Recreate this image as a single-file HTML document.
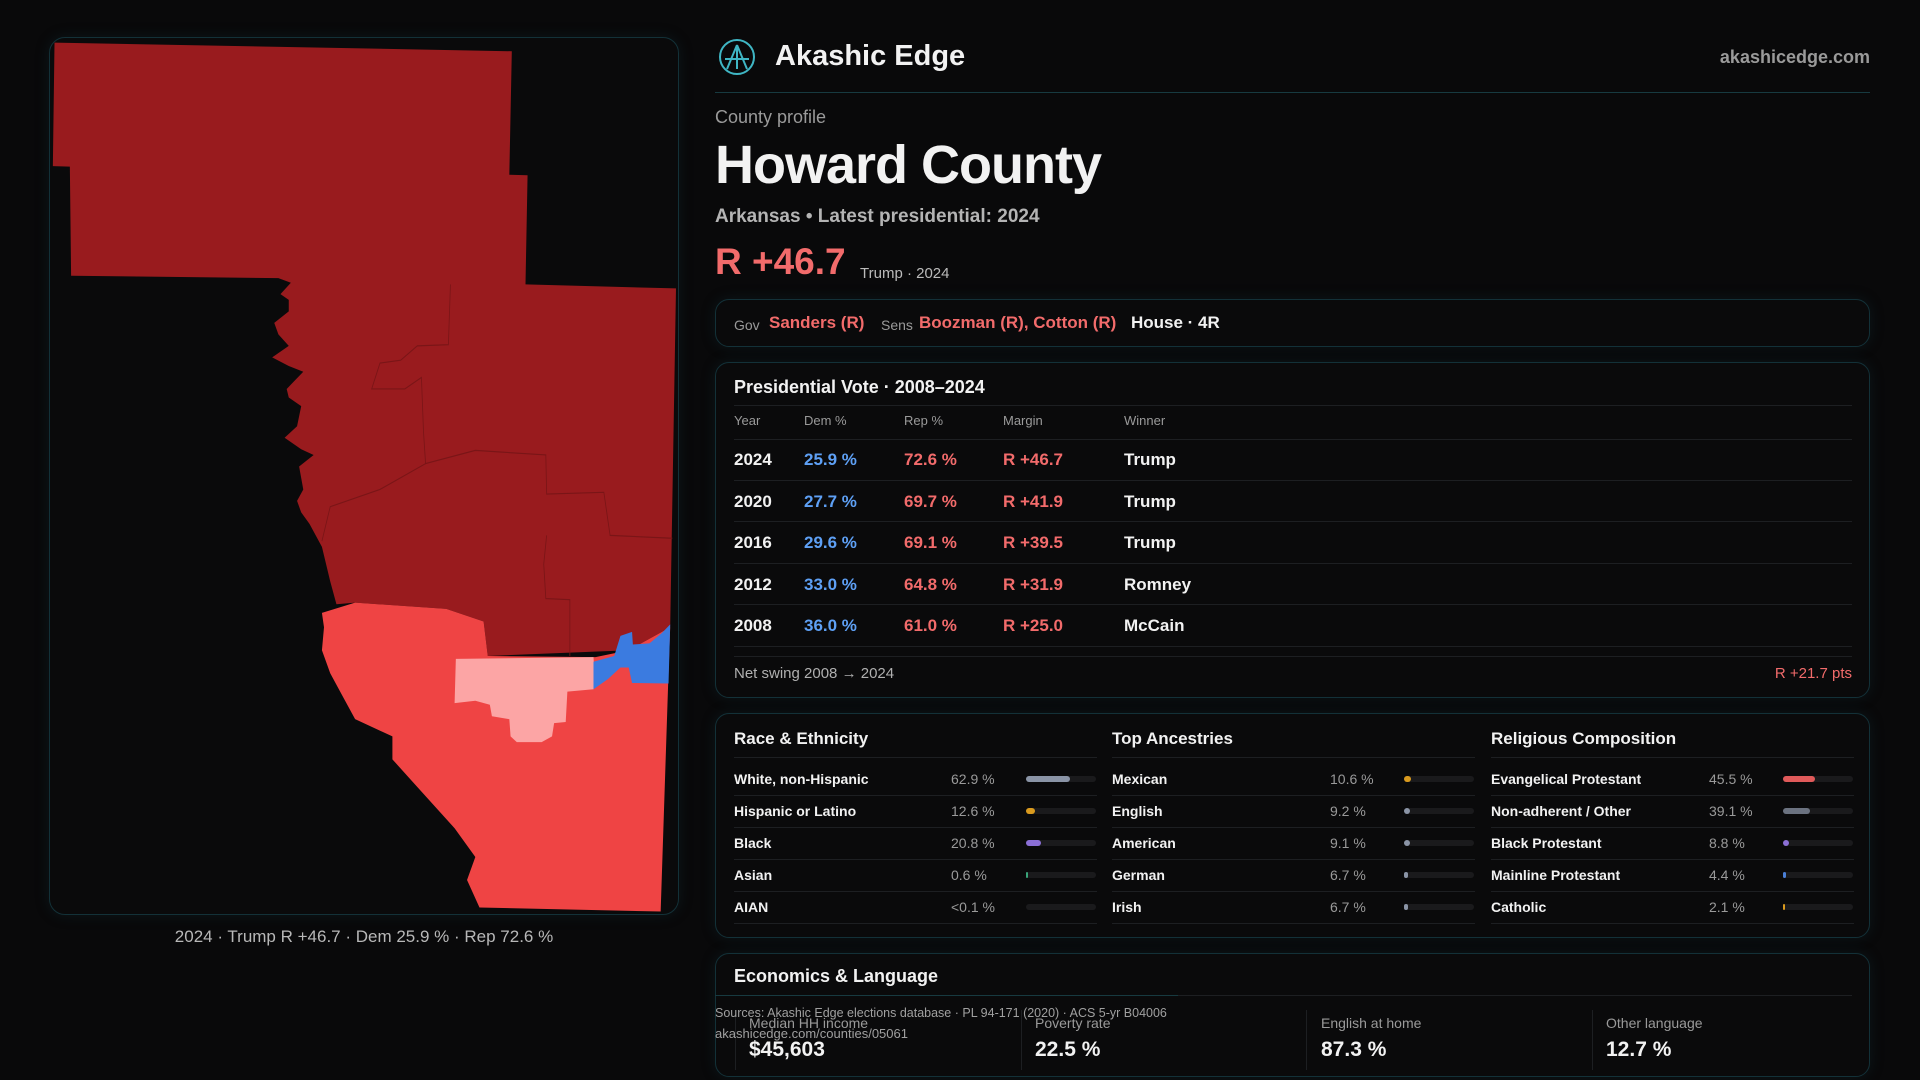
<!DOCTYPE html>
<html><head><meta charset="utf-8"><style>
*{margin:0;padding:0;box-sizing:border-box}
body{width:1920px;height:1080px;background:#09090a;position:relative;overflow:hidden;font-family:"Liberation Sans",sans-serif;color:#f2f2f2}
.a{position:absolute;white-space:nowrap;line-height:1}
.card{position:absolute;border:1px solid #133138;border-radius:14px;background:#0a0a0b;box-shadow:0 0 14px rgba(20,60,70,.25)}
.g{color:#9a9a9a}.d{color:#5ea0f5}.r{color:#f26b6b}
.hl{position:absolute;height:1px;background:#1d1f22}
.trk{position:absolute;height:6px;width:70px;border-radius:3px;background:#1a1a1c}
.fill{position:absolute;left:0;top:0;height:6px;border-radius:3px}
</style></head><body>
<div class="card" style="left:49px;top:37px;width:630px;height:878px;border-radius:16px"></div>
<svg class="a" style="left:0;top:0" width="1920" height="1080">
<g transform="translate(40,30) scale(0.4146,0.5743)">
<polygon fill="#991b1e" points="35,22 1138,37 1132,252 1176,253 1171,443 1534,450 1520,1040 1420,1080 1080,1090 1070,1030 980,1008 760,997 715,1000 700,960 690,930 680,900 665,880 650,860 630,840 620,820 635,800 625,760 660,740 630,730 590,710 620,690 630,655 600,640 595,625 635,595 600,585 560,570 600,550 575,530 565,510 600,490 600,470 580,460 605,440 575,432 75,428 72,238 31,237"/>
<g fill="none" stroke="#7a1517" stroke-width="2">
<polyline points="990,443 985,548 910,550 870,575 820,580 800,625 880,625 920,605 925,700 930,755 1050,732 1220,740 1222,808 1360,805 1375,880 1525,885"/>
<polyline points="930,755 820,800 700,830 680,890"/>
<polyline points="1222,880 1215,930 1220,990 1278,992 1278,1090"/>
</g>
<polygon fill="#ef4444" points="680,1015 760,997 980,1008 1070,1030 1080,1090 1340,1092 1420,1080 1520,1040 1515,1140 1497,1535 1060,1528 1030,1480 1050,1440 1000,1390 900,1310 850,1270 850,1230 760,1200 730,1160 700,1120 680,1080 685,1040"/>
<polygon fill="#fca5a5" points="1003,1095 1335,1092 1338,1130 1350,1135 1335,1148 1272,1152 1268,1205 1240,1207 1235,1230 1210,1240 1150,1240 1135,1230 1132,1200 1090,1195 1085,1175 1050,1168 1000,1172"/>
<polygon fill="#3b7be0" points="1335,1100 1385,1090 1400,1055 1428,1048 1430,1070 1470,1068 1500,1050 1520,1035 1516,1138 1428,1137 1420,1110 1400,1110 1370,1130 1335,1148"/>
</g>
<g transform="translate(737,57)" fill="none" stroke="#3fb6c4" stroke-width="2">
<circle r="17"/><path d="M0,-12 L-10,12 M0,-12 L10,12 M-12,2 L12,2 M0,-12 L0,12"/>
</g>
</svg>
<div class="a g" style="left:0;width:728px;text-align:center;top:928px;font-size:17px;color:#b8b8b8">2024 · Trump R +46.7 · Dem 25.9 % · Rep 72.6 %</div>

<div class="a" style="left:775px;top:42px;font-size:29px;font-weight:bold">Akashic Edge</div>
<div class="a g" style="right:50px;top:48px;font-size:18px;font-weight:bold">akashicedge.com</div>
<div style="position:absolute;left:715px;top:92px;width:1155px;height:1px;background:#173a40"></div>
<div class="a g" style="left:715px;top:108px;font-size:18px">County profile</div>
<div class="a" style="left:715px;top:138px;font-size:54px;font-weight:bold;letter-spacing:-1px">Howard County</div>
<div class="a" style="left:715px;top:207px;font-size:19px;font-weight:bold;color:#b4b4b4">Arkansas • Latest presidential: 2024</div>
<div class="a r" style="left:715px;top:243px;font-size:37px;font-weight:bold">R +46.7</div>
<div class="a" style="left:860px;top:266px;font-size:15px;color:#bbb">Trump · 2024</div>

<div class="card" style="left:715px;top:299px;width:1155px;height:48px"></div>
<div class="a g" style="left:734px;top:318px;font-size:14px">Gov</div>
<div class="a r" style="left:769px;top:314px;font-size:17px;font-weight:bold">Sanders (R)</div>
<div class="a g" style="left:881px;top:318px;font-size:14px">Sens</div>
<div class="a r" style="left:919px;top:314px;font-size:17px;font-weight:bold">Boozman (R), Cotton (R)</div>
<div class="a" style="left:1131px;top:314px;font-size:17px;font-weight:bold">House · 4R</div>

<div class="card" style="left:715px;top:362px;width:1155px;height:336px"></div>
<div class="a" style="left:734px;top:378px;font-size:18px;font-weight:bold">Presidential Vote · 2008–2024</div>
<div class="hl" style="left:734px;width:1118px;top:405px"></div>
<div class="a g" style="left:734px;top:414px;font-size:13px">Year</div>
<div class="a g" style="left:804px;top:414px;font-size:13px">Dem %</div>
<div class="a g" style="left:904px;top:414px;font-size:13px">Rep %</div>
<div class="a g" style="left:1003px;top:414px;font-size:13px">Margin</div>
<div class="a g" style="left:1124px;top:414px;font-size:13px">Winner</div>
<div class="hl" style="left:734px;width:1118px;top:439px"></div>
<div style="position:absolute;left:734px;top:439px;font-size:17px;font-weight:bold">
<div style="position:relative;height:41.5px;border-bottom:1px solid #1d1f22;width:1118px"><span class="a" style="left:0;top:12px">2024</span><span class="a d" style="left:70px;top:12px">25.9 %</span><span class="a r" style="left:170px;top:12px">72.6 %</span><span class="a r" style="left:269px;top:12px">R +46.7</span><span class="a" style="left:390px;top:12px">Trump</span></div>
<div style="position:relative;height:41.5px;border-bottom:1px solid #1d1f22;width:1118px"><span class="a" style="left:0;top:12px">2020</span><span class="a d" style="left:70px;top:12px">27.7 %</span><span class="a r" style="left:170px;top:12px">69.7 %</span><span class="a r" style="left:269px;top:12px">R +41.9</span><span class="a" style="left:390px;top:12px">Trump</span></div>
<div style="position:relative;height:41.5px;border-bottom:1px solid #1d1f22;width:1118px"><span class="a" style="left:0;top:12px">2016</span><span class="a d" style="left:70px;top:12px">29.6 %</span><span class="a r" style="left:170px;top:12px">69.1 %</span><span class="a r" style="left:269px;top:12px">R +39.5</span><span class="a" style="left:390px;top:12px">Trump</span></div>
<div style="position:relative;height:41.5px;border-bottom:1px solid #1d1f22;width:1118px"><span class="a" style="left:0;top:12px">2012</span><span class="a d" style="left:70px;top:12px">33.0 %</span><span class="a r" style="left:170px;top:12px">64.8 %</span><span class="a r" style="left:269px;top:12px">R +31.9</span><span class="a" style="left:390px;top:12px">Romney</span></div>
<div style="position:relative;height:41.5px;border-bottom:1px solid #1d1f22;width:1118px"><span class="a" style="left:0;top:12px">2008</span><span class="a d" style="left:70px;top:12px">36.0 %</span><span class="a r" style="left:170px;top:12px">61.0 %</span><span class="a r" style="left:269px;top:12px">R +25.0</span><span class="a" style="left:390px;top:12px">McCain</span></div>
</div>
<div class="hl" style="left:734px;width:1118px;top:656px"></div>
<div class="a g" style="left:734px;top:666px;font-size:15px;color:#b0b0b0">Net swing 2008 → 2024</div>
<div class="a r" style="right:68px;top:666px;font-size:15px">R +21.7 pts</div>

<div class="card" style="left:715px;top:713px;width:1155px;height:225px"></div>

<div class="card" style="left:715px;top:953px;width:1155px;height:124px"></div>
<div class="a" style="left:734px;top:967px;font-size:18px;font-weight:bold">Economics &amp; Language</div>
<div class="hl" style="left:734px;width:1118px;top:995px"></div>
<div style="position:absolute;left:715px;top:995px;width:463px;height:1px;background:#173a40"></div>
<div style="position:absolute;left:735px;top:1010px;width:1px;height:60px;background:#1d1f22"></div>
<div style="position:absolute;left:1021px;top:1010px;width:1px;height:60px;background:#1d1f22"></div>
<div style="position:absolute;left:1306px;top:1010px;width:1px;height:60px;background:#1d1f22"></div>
<div style="position:absolute;left:1592px;top:1010px;width:1px;height:60px;background:#1d1f22"></div>
<div class="a g" style="left:749px;top:1016px;font-size:14px">Median HH income</div>
<div class="a g" style="left:1035px;top:1016px;font-size:14px">Poverty rate</div>
<div class="a g" style="left:1321px;top:1016px;font-size:14px">English at home</div>
<div class="a g" style="left:1606px;top:1016px;font-size:14px">Other language</div>
<div class="a" style="left:749px;top:1039px;font-size:21px;font-weight:bold">$45,603</div>
<div class="a" style="left:1035px;top:1039px;font-size:21px;font-weight:bold">22.5 %</div>
<div class="a" style="left:1321px;top:1039px;font-size:21px;font-weight:bold">87.3 %</div>
<div class="a" style="left:1606px;top:1039px;font-size:21px;font-weight:bold">12.7 %</div>
<div class="a" style="left:715px;top:1007px;font-size:12.5px;color:#a0a0a0">Sources: Akashic Edge elections database · PL 94-171 (2020) · ACS 5-yr B04006</div>
<div class="a" style="left:715px;top:1027px;font-size:13px;color:#a0a0a0">akashicedge.com/counties/05061</div>

<div style="position:absolute;left:0;top:0">
<div class="a" style="left:734px;top:730px;font-size:17px;font-weight:bold">Race &amp; Ethnicity</div>
<div class="a" style="left:1112px;top:730px;font-size:17px;font-weight:bold">Top Ancestries</div>
<div class="a" style="left:1491px;top:730px;font-size:17px;font-weight:bold">Religious Composition</div>
<div class="hl" style="left:734px;width:363px;top:757px"></div>
<div class="hl" style="left:1112px;width:363px;top:757px"></div>
<div class="hl" style="left:1491px;width:363px;top:757px"></div>

<div class="hl" style="left:734px;width:363px;top:795px"></div><div class="hl" style="left:734px;width:363px;top:827px"></div><div class="hl" style="left:734px;width:363px;top:859px"></div><div class="hl" style="left:734px;width:363px;top:891px"></div><div class="hl" style="left:734px;width:363px;top:923px"></div>
<div class="hl" style="left:1112px;width:363px;top:795px"></div><div class="hl" style="left:1112px;width:363px;top:827px"></div><div class="hl" style="left:1112px;width:363px;top:859px"></div><div class="hl" style="left:1112px;width:363px;top:891px"></div><div class="hl" style="left:1112px;width:363px;top:923px"></div>
<div class="hl" style="left:1491px;width:363px;top:795px"></div><div class="hl" style="left:1491px;width:363px;top:827px"></div><div class="hl" style="left:1491px;width:363px;top:859px"></div><div class="hl" style="left:1491px;width:363px;top:891px"></div><div class="hl" style="left:1491px;width:363px;top:923px"></div>

<div style="font-size:14px;font-weight:bold">
<span class="a" style="left:734px;top:772px">White, non-Hispanic</span><span class="a g" style="left:951px;top:772px;font-weight:normal">62.9 %</span><div class="trk" style="left:1026px;top:776px"><div class="fill" style="width:44px;background:#8a94a6"></div></div>
<span class="a" style="left:734px;top:804px">Hispanic or Latino</span><span class="a g" style="left:951px;top:804px;font-weight:normal">12.6 %</span><div class="trk" style="left:1026px;top:808px"><div class="fill" style="width:9px;background:#d99a1e"></div></div>
<span class="a" style="left:734px;top:836px">Black</span><span class="a g" style="left:951px;top:836px;font-weight:normal">20.8 %</span><div class="trk" style="left:1026px;top:840px"><div class="fill" style="width:15px;background:#8b6fd6"></div></div>
<span class="a" style="left:734px;top:868px">Asian</span><span class="a g" style="left:951px;top:868px;font-weight:normal">0.6 %</span><div class="trk" style="left:1026px;top:872px"><div class="fill" style="width:2px;background:#3aa57a"></div></div>
<span class="a" style="left:734px;top:900px">AIAN</span><span class="a g" style="left:951px;top:900px;font-weight:normal">&lt;0.1 %</span><div class="trk" style="left:1026px;top:904px"></div>

<span class="a" style="left:1112px;top:772px">Mexican</span><span class="a g" style="left:1330px;top:772px;font-weight:normal">10.6 %</span><div class="trk" style="left:1404px;top:776px"><div class="fill" style="width:7px;background:#d99a1e"></div></div>
<span class="a" style="left:1112px;top:804px">English</span><span class="a g" style="left:1330px;top:804px;font-weight:normal">9.2 %</span><div class="trk" style="left:1404px;top:808px"><div class="fill" style="width:6px;background:#8a94a6"></div></div>
<span class="a" style="left:1112px;top:836px">American</span><span class="a g" style="left:1330px;top:836px;font-weight:normal">9.1 %</span><div class="trk" style="left:1404px;top:840px"><div class="fill" style="width:6px;background:#8a94a6"></div></div>
<span class="a" style="left:1112px;top:868px">German</span><span class="a g" style="left:1330px;top:868px;font-weight:normal">6.7 %</span><div class="trk" style="left:1404px;top:872px"><div class="fill" style="width:4px;background:#8a94a6"></div></div>
<span class="a" style="left:1112px;top:900px">Irish</span><span class="a g" style="left:1330px;top:900px;font-weight:normal">6.7 %</span><div class="trk" style="left:1404px;top:904px"><div class="fill" style="width:4px;background:#8a94a6"></div></div>

<span class="a" style="left:1491px;top:772px">Evangelical Protestant</span><span class="a g" style="left:1709px;top:772px;font-weight:normal">45.5 %</span><div class="trk" style="left:1783px;top:776px"><div class="fill" style="width:32px;background:#e05a5a"></div></div>
<span class="a" style="left:1491px;top:804px">Non-adherent / Other</span><span class="a g" style="left:1709px;top:804px;font-weight:normal">39.1 %</span><div class="trk" style="left:1783px;top:808px"><div class="fill" style="width:27px;background:#6b7280"></div></div>
<span class="a" style="left:1491px;top:836px">Black Protestant</span><span class="a g" style="left:1709px;top:836px;font-weight:normal">8.8 %</span><div class="trk" style="left:1783px;top:840px"><div class="fill" style="width:6px;background:#8b6fd6"></div></div>
<span class="a" style="left:1491px;top:868px">Mainline Protestant</span><span class="a g" style="left:1709px;top:868px;font-weight:normal">4.4 %</span><div class="trk" style="left:1783px;top:872px"><div class="fill" style="width:3px;background:#4a7fd6"></div></div>
<span class="a" style="left:1491px;top:900px">Catholic</span><span class="a g" style="left:1709px;top:900px;font-weight:normal">2.1 %</span><div class="trk" style="left:1783px;top:904px"><div class="fill" style="width:2px;background:#d99a1e"></div></div>
</div>
</div>
</body></html>
